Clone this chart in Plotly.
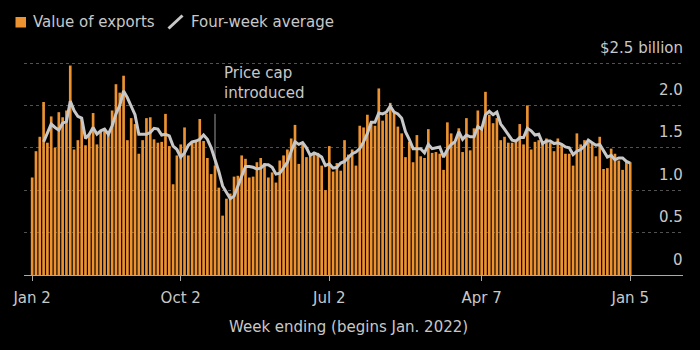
import pandas as pd
import plotly.graph_objects as go

# Weekly data (week ending, begins Jan 2 2022)
week_start = "2022-01-02"
n_weeks = 158

exports = [
    1.15, 1.46, 1.63, 2.04, 1.56, 1.87, 1.50, 1.92, 1.86, 1.94,
    2.47, 1.48, 1.59, 1.84, 1.53, 1.67, 1.91, 1.54, 1.69, 1.73,
    1.67, 1.94, 2.25, 2.15, 2.35, 1.59, 1.85, 1.78, 1.43, 1.59,
    1.85, 1.86, 1.60, 1.56, 1.57, 1.90, 1.52, 1.07, 1.41, 1.54,
    1.74, 1.41, 1.58, 1.58, 1.84, 1.58, 1.38, 1.19, 1.29, 1.03,
    0.70, 0.90, 0.96, 1.16, 1.17, 1.41, 1.37, 1.15, 1.16, 1.33,
    1.38, 1.32, 1.15, 1.21, 1.09, 1.35, 1.41, 1.48, 1.61, 1.77,
    1.31, 1.54, 1.39, 1.40, 1.43, 1.44, 1.29, 1.00, 1.52, 1.22,
    1.32, 1.23, 1.59, 1.42, 1.48, 1.29, 1.76, 1.74, 1.89, 1.80,
    1.76, 2.20, 1.82, 1.90, 2.03, 1.93, 1.75, 1.67, 1.39, 1.57,
    1.33, 1.65, 1.40, 1.38, 1.72, 1.44, 1.45, 1.43, 1.24, 1.80,
    1.67, 1.56, 1.73, 1.45, 1.85, 1.47, 1.73, 1.94, 1.72, 2.16,
    1.89, 1.79, 1.85, 1.59, 1.63, 1.56, 1.56, 1.58, 1.78, 1.54,
    2.00, 1.48, 1.57, 1.59, 1.56, 1.61, 1.56, 1.46, 1.61, 1.54,
    1.43, 1.43, 1.29, 1.67, 1.54, 1.59, 1.56, 1.55, 1.40, 1.63,
    1.25, 1.26, 1.49, 1.43, 1.35, 1.24, 1.34, 1.33,
]

four_week_avg = [
    None, None, None, 1.57, 1.67, 1.78, 1.74, 1.71, 1.79, 1.81,
    2.05, 1.94, 1.87, 1.85, 1.61, 1.66, 1.74, 1.66, 1.70, 1.72,
    1.66, 1.76, 1.90, 2.00, 2.17, 2.09, 1.99, 1.89, 1.66, 1.66,
    1.66, 1.68, 1.73, 1.72, 1.65, 1.66, 1.64, 1.52, 1.48, 1.39,
    1.44, 1.53, 1.57, 1.58, 1.60, 1.65, 1.60, 1.50, 1.36, 1.22,
    1.05, 0.98, 0.90, 0.93, 1.05, 1.18, 1.28, 1.28, 1.27, 1.25,
    1.26, 1.30, 1.30, 1.27, 1.19, 1.20, 1.27, 1.33, 1.46, 1.57,
    1.54, 1.56, 1.50, 1.41, 1.44, 1.42, 1.39, 1.29, 1.31, 1.26,
    1.27, 1.32, 1.34, 1.39, 1.43, 1.45, 1.49, 1.57, 1.67, 1.80,
    1.80, 1.91, 1.90, 1.92, 1.99, 1.92, 1.90, 1.85, 1.69, 1.60,
    1.49, 1.49, 1.49, 1.44, 1.54, 1.49, 1.50, 1.51, 1.39, 1.48,
    1.54, 1.57, 1.69, 1.60, 1.65, 1.63, 1.63, 1.75, 1.72, 1.89,
    1.93, 1.89, 1.92, 1.78, 1.72, 1.66, 1.59, 1.58, 1.62, 1.62,
    1.73, 1.70, 1.65, 1.66, 1.55, 1.58, 1.58, 1.55, 1.56, 1.54,
    1.51, 1.50, 1.42, 1.46, 1.48, 1.52, 1.59, 1.56, 1.53, 1.54,
    1.46, 1.39, 1.41, 1.36, 1.38, 1.38, 1.34, 1.32,
]

tick_dates = ["2022-01-02", "2022-10-02", "2023-07-02", "2024-04-07", "2025-01-05"]
tick_labels = ["Jan 2", "Oct 2", "Jul 2", "Apr 7", "Jan 5"]

y_tickvals = [0, 0.5, 1.0, 1.5, 2.0, 2.5]
y_ticktext = ["0", "0.5", "1.0", "1.5", "2.0", "$2.5 billion"]

price_cap_week = "2022-12-04"
price_cap_text = "Price cap<br>introduced"

weeks = pd.date_range(week_start, periods=n_weeks, freq="7D")

ORANGE = "#EC9230"
GRAY_LINE = "#C8C8C8"
TEXT = "#C8C8C8"
FONT = "DejaVu Sans"

# plot-area geometry (pixels)
ML, MR, MT, MB = 24, 17, 38, 75
FIG_W, FIG_H = 700, 350
W = FIG_W - ML - MR
H = FIG_H - MT - MB
B = FIG_H - MB
Y_TOP = H / 84.8  # keep ~84.8 px per $1bn


def px(xp):
    return (xp - ML) / W


def py(yp):
    return (B - yp) / H


fig = go.Figure()
fig.add_trace(go.Bar(x=weeks, y=exports, name="Value of exports",
                     marker=dict(color=ORANGE, line=dict(width=0)),
                     showlegend=False))
fig.add_trace(go.Scatter(x=weeks, y=four_week_avg, name="Four-week average",
                         mode="lines", line=dict(color=GRAY_LINE, width=3),
                         showlegend=False))

# price cap marker
fig.add_shape(type="line", xref="x", yref="y",
              x0=price_cap_week, x1=price_cap_week, y0=0, y1=1.9,
              line=dict(color="#9A9A9A", width=1), layer="below")
fig.add_annotation(x=price_cap_week, y=2.27, xref="x", yref="y",
                   text=price_cap_text, showarrow=False, xanchor="left",
                   yanchor="middle", align="left", xshift=7,
                   font=dict(family=FONT, size=15, color=TEXT))

# y tick labels: right-aligned, sitting just above each gridline
for v, t in zip(y_tickvals, y_ticktext):
    fig.add_annotation(x=1, y=v, xref="paper", yref="y", text=t,
                       showarrow=False, xanchor="right", yanchor="middle",
                       xshift=2, yshift=15.5,
                       font=dict(family=FONT, size=15, color=TEXT))

# manual legend
fig.add_shape(type="rect", xref="paper", yref="paper",
              x0=px(15.5), x1=px(26), y0=py(27.5), y1=py(17),
              fillcolor=ORANGE, line=dict(width=0))
fig.add_annotation(x=px(31), y=py(22), xref="paper", yref="paper",
                   text="Value of exports", showarrow=False,
                   xanchor="left", yanchor="middle",
                   font=dict(family=FONT, size=15, color=TEXT))
fig.add_shape(type="line", xref="paper", yref="paper",
              x0=px(168.5), x1=px(182.5), y0=py(28.5), y1=py(15.5),
              line=dict(color=GRAY_LINE, width=3))
fig.add_annotation(x=px(189), y=py(22), xref="paper", yref="paper",
                   text="Four-week average", showarrow=False,
                   xanchor="left", yanchor="middle",
                   font=dict(family=FONT, size=15, color=TEXT))

# x-axis title
fig.add_annotation(x=px(348), y=py(327), xref="paper", yref="paper",
                   text="Week ending (begins Jan. 2022)", showarrow=False,
                   xanchor="center", yanchor="middle",
                   font=dict(family=FONT, size=15, color=TEXT))

fig.update_layout(
    width=FIG_W, height=FIG_H,
    margin=dict(l=ML, r=MR, t=MT, b=MB),
    paper_bgcolor="#000000", plot_bgcolor="#000000",
    bargap=0.3,
    font=dict(family=FONT, size=15, color=TEXT),
)
fig.update_xaxes(
    type="date",
    range=["2021-12-18", "2025-04-12"],
    tickvals=tick_dates, ticktext=tick_labels,
    ticks="outside", ticklen=5, tickwidth=1, tickcolor="#AAAAAA",
    ticklabelstandoff=4,
    showline=True, linecolor="#AAAAAA", linewidth=1,
    showgrid=False, zeroline=False,
    tickfont=dict(family=FONT, size=15, color=TEXT),
)
fig.update_yaxes(
    range=[0, Y_TOP], side="right",
    tickvals=y_tickvals, showticklabels=False,
    showgrid=True, gridcolor="rgba(150,150,150,0.55)", griddash="dot", gridwidth=1,
    zeroline=False, showline=False, ticks="",
    layer="above traces",
)

fig.write_html("out.html")
